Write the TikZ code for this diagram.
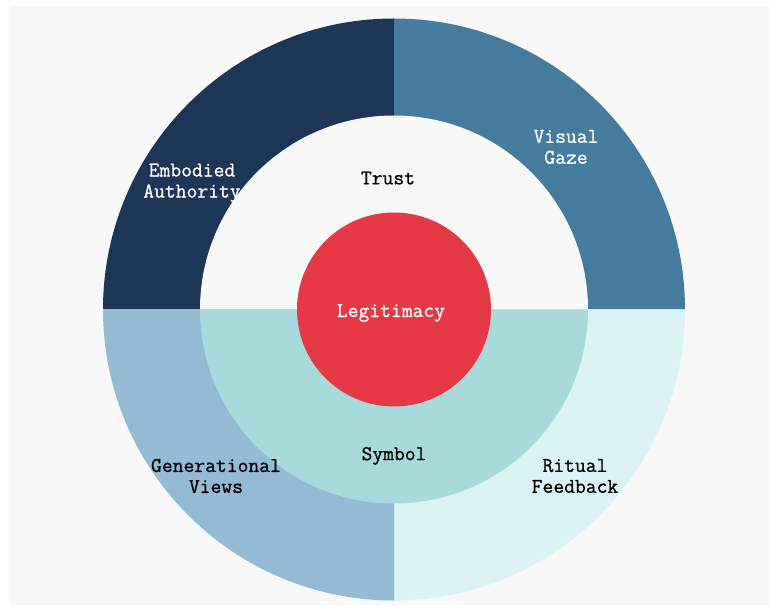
\documentclass[tikz,border=0pt]{standalone}
\usepackage{fontspec}
\newfontfamily\ringfont{Latin Modern Mono}[FakeBold=0.8]
\definecolor{pagebg}{HTML}{F8F8F8}
\definecolor{navy}{HTML}{1D3557}
\definecolor{steel}{HTML}{457B9D}
\definecolor{skyblue}{HTML}{95BBD4}
\definecolor{icecyan}{HTML}{DBF3F4}
\definecolor{teal}{HTML}{A8DADC}
\definecolor{coral}{HTML}{E63946}
\tikzset{
  ringlabel/.style={align=center, font=\ringfont\fontsize{21}{21}\selectfont, inner sep=0pt},
  darklabel/.style={ringlabel, text=white},
  lightlabel/.style={ringlabel, text=black},
}
\begin{document}
\begin{tikzpicture}[x=1pt,y=1pt]
  % canvas
  \fill[white] (0,0) rectangle (769,606);
  \fill[pagebg] (10,1) rectangle (769,600);
  \useasboundingbox (0,0) rectangle (769,606);
  \coordinate (c) at (394,296.5);
  % outer ring quadrants
  \fill[navy]    (c) -- +(180:291) arc[start angle=180, end angle=90,  radius=291] -- cycle;
  \fill[steel]   (c) -- +(90:291)  arc[start angle=90,  end angle=0,   radius=291] -- cycle;
  \fill[icecyan] (c) -- +(0:291)   arc[start angle=0,   end angle=-90, radius=291] -- cycle;
  \fill[skyblue] (c) -- +(270:291) arc[start angle=270, end angle=180, radius=291] -- cycle;
  % inner ring halves
  \fill[pagebg] (c) -- +(0:194)   arc[start angle=0,   end angle=180, radius=194] -- cycle;
  \fill[teal]   (c) -- +(180:194) arc[start angle=180, end angle=360, radius=194] -- cycle;
  % core
  \fill[coral] (c) circle[radius=97];
  % labels
  \node[darklabel]  (core)    at (391,293) {Legitimacy};
  \node[lightlabel] (trust)   at (388,428) {Trust};
  \node[lightlabel] (symbol)  at (394,150) {Symbol};
  \node[darklabel]  (embody)  at (192,423) {Embodied\\Authority};
  \node[darklabel]  (gaze)    at (566,459) {Visual\\Gaze};
  \node[lightlabel] (views)   at (216,130) {Generational\\Views};
  \node[lightlabel] (ritual)  at (575,130) {Ritual\\Feedback};
\end{tikzpicture}
\end{document}
